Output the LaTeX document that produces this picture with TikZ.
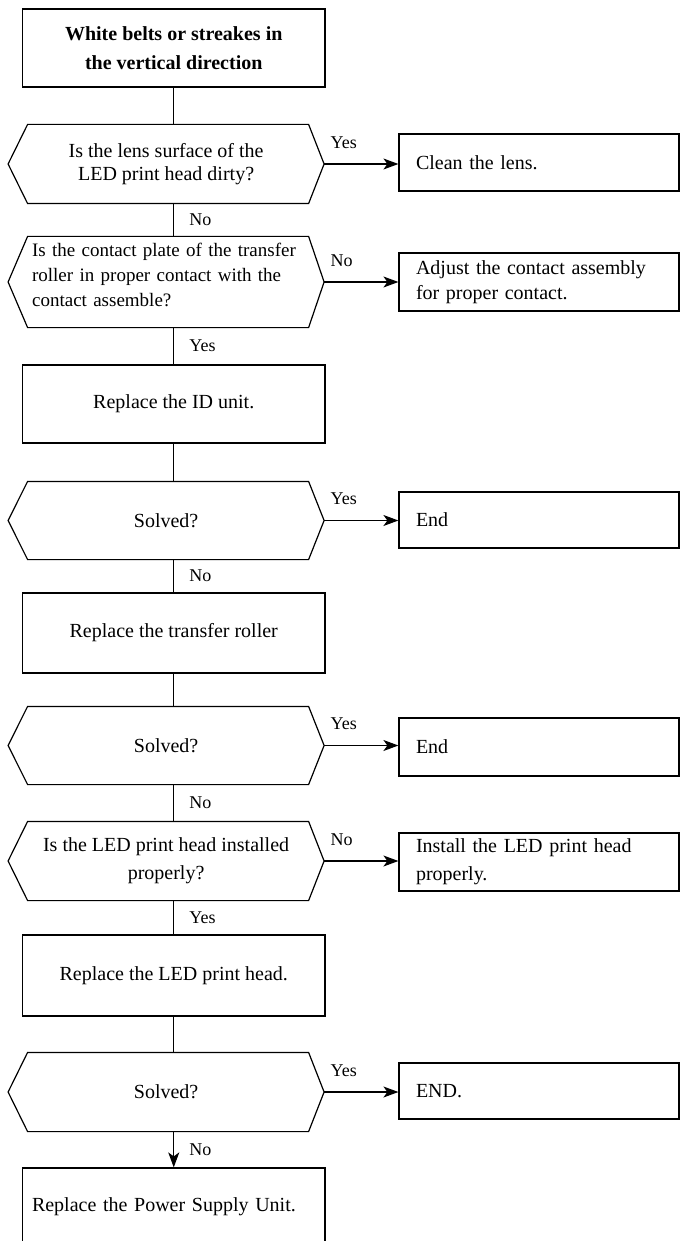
\documentclass[tikz,border=0pt]{standalone}
\usepackage{fontspec}
\setmainfont{Liberation Serif}
\usetikzlibrary{calc,arrows.meta}

\begin{document}
\begin{tikzpicture}[x=1pt,y=-1pt,line width=1.2pt,
  every node/.style={inner sep=0pt,font=\fontsize{20}{24}\selectfont},
  mainbox/.style={draw,rectangle,minimum width=302.5pt,align=center},
  leftbox/.style={draw,rectangle,text width=283.5pt,inner xsep=9.5pt,align=left},
  rbox/.style={draw,rectangle,text width=246pt,inner xsep=17pt,align=left},
  hexq/.style={rectangle,minimum width=314.8pt,align=center},
  tag/.style={font=\fontsize{18}{20}\selectfont},
  side/.style={tag,anchor=south west,xshift=6pt,yshift=15pt},
  down/.style={tag,midway,anchor=west,xshift=15pt},
  arr/.style={-{Stealth[length=15pt,width=11pt,inset=4pt]}}]

\fill[white] (0,0) rectangle (680,1241);
\useasboundingbox (0,0) rectangle (680,1241);

% main column
\node[mainbox,minimum height=78pt,font=\fontsize{20}{29}\selectfont\bfseries] (top) at (173.75,48)
  {White belts or streakes in\\the vertical direction};
\node[hexq,minimum height=78pt,font=\fontsize{20}{23}\selectfont] (q1) at (166.1,164)
  {Is the lens surface of the\\LED print head dirty?};
\node[hexq,minimum height=90pt,
  label={[text width=268pt,align=left,font=\fontsize{19}{25}\selectfont,yshift=7pt]center:Is the contact plate of the transfer\\roller in proper contact with the\\contact assemble?}] (q2) at (166.1,282) {};
\node[mainbox,minimum height=78pt] (idu) at (173.75,404) {Replace the ID unit.};
\node[hexq,minimum height=77pt] (q3) at (166.1,520.5) {Solved?};
\node[mainbox,minimum height=80pt] (roller) at (173.75,633) {Replace the transfer roller};
\node[hexq,minimum height=77pt] (q4) at (166.1,745.5) {Solved?};
\node[hexq,minimum height=78pt,font=\fontsize{20}{28}\selectfont] (q5) at (166.1,861)
  {Is the LED print head installed\\properly?};
\node[mainbox,minimum height=81pt] (led) at (173.75,975.5) {Replace the LED print head.};
\node[hexq,minimum height=78pt] (q6) at (166.1,1092) {Solved?};
\node[leftbox,minimum height=78pt] (psu) at (173.75,1207) {Replace the Power Supply Unit.};

% outcome boxes
\node[rbox,minimum height=57pt] (clean) at (539,162.5) {Clean the lens.};
\node[rbox,minimum height=58pt,font=\fontsize{20}{25}\selectfont] (adjust) at (539,282)
  {Adjust the contact assembly\\for proper contact.};
\node[rbox,minimum height=56pt] (end1) at (539,520) {End};
\node[rbox,minimum height=58pt] (end2) at (539,747) {End};
\node[rbox,minimum height=58pt,font=\fontsize{20}{28}\selectfont] (install) at (539,862)
  {Install the LED print head\\properly.};
\node[rbox,minimum height=56pt] (end3) at (539,1091) {END.};

% decision outlines
\foreach \n in {q1,q2,q3,q4,q5,q6}
  \draw (\n.west) -- ($(\n.north west)+(19.5,0)$) -- ($(\n.north east)+(-15.5,0)$)
    -- (\n.east) -- ($(\n.south east)+(-15.5,0)$) -- ($(\n.south west)+(19.5,0)$) -- cycle;

% vertical flow
\draw (top.south) -- (top.south |- q1.north);
\draw (q1.south -| top) -- (top |- q2.north) node[down] {No};
\draw (q2.south -| top) -- (idu.north) node[down] {Yes};
\draw (idu.south) -- (idu.south |- q3.north);
\draw (q3.south -| top) -- (roller.north) node[down] {No};
\draw (roller.south) -- (roller.south |- q4.north);
\draw (q4.south -| top) -- (top |- q5.north) node[down] {No};
\draw (q5.south -| top) -- (led.north) node[down] {Yes};
\draw (led.south) -- (led.south |- q6.north);
\draw[arr] (q6.south -| top) -- (psu.north) node[down] {No};

% side branches
\draw[arr] (q1.east) -- (q1.east -| clean.west) node[pos=0,side] {Yes};
\draw[arr] (q2.east) -- (q2.east -| adjust.west) node[pos=0,side] {No};
\draw[arr] (q3.east) -- (q3.east -| end1.west) node[pos=0,side] {Yes};
\draw[arr] (q4.east) -- (q4.east -| end2.west) node[pos=0,side] {Yes};
\draw[arr] (q5.east) -- (q5.east -| install.west) node[pos=0,side] {No};
\draw[arr] (q6.east) -- (q6.east -| end3.west) node[pos=0,side] {Yes};
\end{tikzpicture}
\end{document}
